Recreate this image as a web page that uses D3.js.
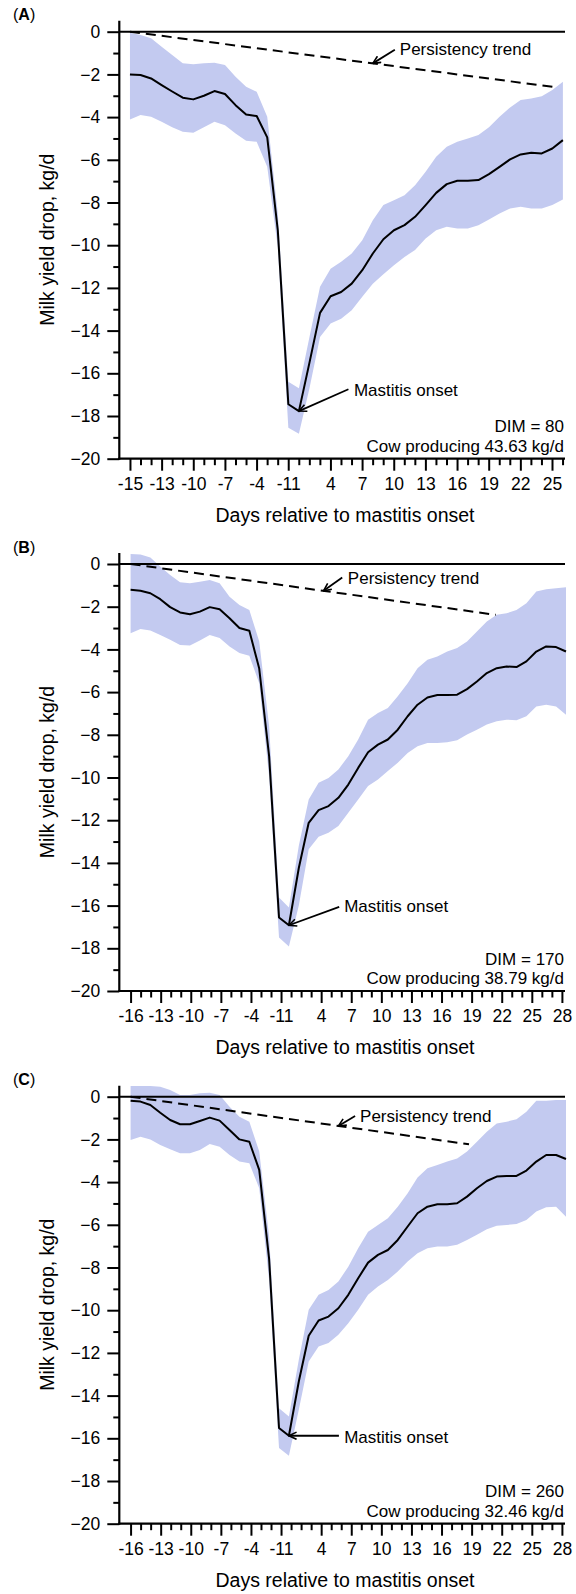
<!DOCTYPE html>
<html><head><meta charset="utf-8">
<script src="https://cdn.jsdelivr.net/npm/d3@7"></script>
<style>
body{margin:0;background:#fff}
svg{display:block}
text{font-family:"Liberation Sans",Arial,Helvetica,sans-serif;fill:#000}
</style></head>
<body><div id="chart"></div>
<script>
// ---------------- DATA ----------------
const panelLetters = ["A","B","C"];
const dimLabels = ["DIM = 80","DIM = 170","DIM = 260"];
const cowLabels = ["Cow producing 43.63 kg/d","Cow producing 38.79 kg/d","Cow producing 32.46 kg/d"];

const xLabelsA = ["-15","-13","-10","-7","-4","-11","4","7","10","13","16","19","22","25"];
const xLabelPosA = [0,3,6,9,12,15,19,22,25,28,31,34,37,40];
const xLabelsBC = ["-16","-13","-10","-7","-4","-11","4","7","10","13","16","19","22","25","28"];
const xLabelPosBC = [0,3,6,9,12,15,19,22,25,28,31,34,37,40,43];

const yMajor = [0,-2,-4,-6,-8,-10,-12,-14,-16,-18,-20];
const yMinor = [-1,-3,-5,-7,-9,-11,-13,-15,-17,-19];

const meanA = [-2.0,-2.03,-2.19,-2.5,-2.8,-3.09,-3.17,-3.0,-2.78,-2.92,-3.44,-3.88,-3.95,-4.95,-9.3,-17.45,-17.77,-15.5,-13.17,-12.39,-12.19,-11.8,-11.17,-10.39,-9.72,-9.3,-9.06,-8.67,-8.12,-7.55,-7.14,-6.98,-6.98,-6.95,-6.67,-6.33,-5.98,-5.75,-5.67,-5.7,-5.47,-5.08];
const upperA = [-0.05,-0.16,-0.31,-0.7,-1.09,-1.48,-1.53,-1.48,-1.45,-1.56,-2.11,-2.58,-2.81,-3.98,-8.5,-16.4,-16.7,-14.3,-11.95,-11.1,-10.78,-10.39,-9.77,-8.83,-8.12,-7.89,-7.66,-7.19,-6.56,-5.86,-5.39,-5.16,-5.0,-4.84,-4.48,-3.98,-3.55,-3.2,-3.13,-3.02,-2.73,-2.34];
const lowerA = [-4.11,-3.9,-3.98,-4.22,-4.48,-4.69,-4.73,-4.48,-4.22,-4.38,-4.77,-5.11,-5.16,-6.33,-10.1,-18.55,-18.83,-16.7,-14.3,-13.67,-13.44,-13.05,-12.42,-11.8,-11.36,-10.94,-10.55,-10.23,-9.69,-9.3,-9.14,-9.22,-9.22,-9.06,-8.8,-8.52,-8.28,-8.2,-8.28,-8.28,-8.12,-7.86];

const meanB = [-1.21,-1.25,-1.37,-1.65,-2.02,-2.27,-2.35,-2.23,-2.02,-2.12,-2.54,-3.0,-3.13,-4.9,-9.0,-16.56,-16.92,-14.24,-12.12,-11.53,-11.34,-10.95,-10.33,-9.55,-8.82,-8.46,-8.22,-7.76,-7.13,-6.59,-6.25,-6.14,-6.14,-6.12,-5.86,-5.5,-5.11,-4.88,-4.8,-4.83,-4.56,-4.1,-3.86,-3.89,-4.1];
const upperB = [0.47,0.44,0.31,-0.12,-0.51,-0.86,-0.9,-0.83,-0.75,-0.9,-1.53,-1.92,-2.15,-3.63,-7.6,-15.62,-16.09,-13.2,-11.03,-10.25,-10.02,-9.63,-9.0,-8.22,-7.29,-6.98,-6.74,-6.2,-5.58,-4.88,-4.49,-4.33,-4.1,-3.94,-3.63,-3.16,-2.69,-2.38,-2.31,-2.15,-1.84,-1.29,-1.18,-1.14,-1.09];
const lowerB = [-3.24,-3.05,-3.12,-3.32,-3.55,-3.79,-3.82,-3.58,-3.32,-3.47,-3.86,-4.17,-4.3,-5.58,-9.94,-17.49,-17.91,-16.0,-13.36,-12.77,-12.59,-12.27,-11.65,-11.03,-10.4,-10.09,-9.7,-9.31,-8.85,-8.54,-8.38,-8.38,-8.35,-8.26,-7.99,-7.76,-7.52,-7.37,-7.29,-7.32,-7.13,-6.67,-6.59,-6.67,-7.06];

const meanC = [-0.19,-0.23,-0.39,-0.75,-1.09,-1.29,-1.29,-1.14,-0.98,-1.12,-1.56,-2.0,-2.11,-3.43,-7.6,-15.52,-15.88,-13.34,-11.2,-10.48,-10.3,-9.91,-9.28,-8.5,-7.77,-7.41,-7.18,-6.71,-6.08,-5.46,-5.15,-5.04,-5.04,-4.99,-4.68,-4.29,-3.95,-3.74,-3.71,-3.71,-3.46,-3.04,-2.73,-2.73,-2.92];
const upperC = [0.5,0.5,0.5,0.47,0.31,0.08,0.08,0.16,0.19,0.08,-0.47,-0.94,-1.17,-2.57,-6.55,-14.59,-14.98,-12.32,-9.98,-9.28,-9.05,-8.66,-7.96,-7.1,-6.32,-6.01,-5.69,-5.15,-4.52,-3.78,-3.35,-3.2,-3.04,-2.89,-2.57,-2.11,-1.64,-1.25,-1.17,-1.06,-0.7,-0.19,-0.19,-0.16,-0.16];
const lowerC = [-2.03,-1.87,-2.0,-2.26,-2.46,-2.65,-2.65,-2.5,-2.22,-2.34,-2.73,-3.04,-3.12,-4.29,-8.58,-16.46,-16.82,-14.66,-12.4,-11.7,-11.54,-11.15,-10.61,-9.98,-9.28,-8.89,-8.58,-8.19,-7.72,-7.33,-7.1,-7.02,-7.02,-6.94,-6.71,-6.47,-6.21,-6.05,-6.01,-5.96,-5.77,-5.38,-5.18,-5.15,-5.62];

// persistency trend: start (index, value) and end (index, value)
const trendA = [[0,0],[40.3,-2.6]];
const trendB = [[0,0],[36.9,-2.38]];
const trendC = [[0,0],[34.2,-2.23]];
const trendArrowIdx = [23, 19.5, 21];
const onsetIdx = 16;

// ---------------- LAYOUT ----------------
const W = 576, H = 1594;
const FS = 17, TFS = 17.5;
const panels = [
  {mean:meanA, upper:upperA, lower:lowerA, trend:trendA, labels:xLabelsA, labelPos:xLabelPosA,
   top:31.7, xd:[-1.01,41.2], xr:[119.3,565], tickMax:41, tickEnd:552,
   pArrow:{tail:[22,-13.6], text:[27,-8]}, oArrow:{tail:[49.5,-21.8], text:[55,-15.4]}},
  {mean:meanB, upper:upperB, lower:lowerB, trend:trendB, labels:xLabelsBC, labelPos:xLabelPosBC,
   top:564, xd:[-1.14,43.9], xr:[119.3,565], tickMax:43, tickEnd:561.9,
   pArrow:{tail:[18.7,-13.4], text:[24.3,-7]}, oArrow:{tail:[50.3,-18.3], text:[55.3,-13.3]}},
  {mean:meanC, upper:upperC, lower:lowerC, trend:trendC, labels:xLabelsBC, labelPos:xLabelPosBC,
   top:1096.7, xd:[-1.14,43.9], xr:[119.3,565], tickMax:43, tickEnd:561.9,
   pArrow:{tail:[16.7,-10], text:[21.7,-4.3]}, oArrow:{tail:[50,0], text:[55.3,7]}}
];
const PH = 427;

const svg = d3.select("#chart").append("svg").attr("width",W).attr("height",H);
svg.append("rect").attr("width",W).attr("height",H).attr("fill","#fff");
svg.append("defs").append("marker")
  .attr("id","arr").attr("viewBox","0 0 10 10").attr("refX",9.5).attr("refY",5)
  .attr("markerWidth",9).attr("markerHeight",9).attr("markerUnits","userSpaceOnUse").attr("orient","auto")
  .append("path").attr("d","M1,1 L9.5,5 L1,9").attr("fill","none").attr("stroke","#000").attr("stroke-width",1.8);

const BAND = "#c3caf0";

panels.forEach((p,pi)=>{
  const g = svg.append("g");
  const x = d3.scaleLinear().domain(p.xd).range(p.xr);
  const y = d3.scaleLinear().domain([0,-20]).range([p.top, p.top+PH]);
  // tick grid scale (day ticks of the axis)
  const lastLab = p.labelPos[p.labelPos.length-1];
  const xt = d3.scaleLinear().domain([0,lastLab]).range([x(0), p.tickEnd]);
  const idx = d3.range(p.mean.length);

  // band
  g.append("path").datum(idx)
    .attr("d", d3.area().x(i=>x(i)).y0(i=>y(p.lower[i])).y1(i=>y(p.upper[i])))
    .attr("fill", BAND).attr("stroke","none");

  // zero line
  g.append("line").attr("x1",x.range()[0]).attr("x2",x.range()[1])
    .attr("y1",y(0)).attr("y2",y(0)).attr("stroke","#000").attr("stroke-width",2);

  // persistency trend
  g.append("path").datum(p.trend)
    .attr("d", d3.line().x(d=>x(d[0])).y(d=>y(d[1])))
    .attr("fill","none").attr("stroke","#000").attr("stroke-width",2).attr("stroke-dasharray","10,6");

  // mean line
  g.append("path").datum(idx)
    .attr("d", d3.line().x(i=>x(i)).y(i=>y(p.mean[i])))
    .attr("fill","none").attr("stroke","#000").attr("stroke-width",2).attr("stroke-linejoin","round");

  // y axis
  const yAxMaj = d3.axisLeft(y).tickValues(yMajor).tickSize(12).tickPadding(7).tickFormat(d3.format("d"));
  const yAxMin = d3.axisLeft(y).tickValues(yMinor).tickSize(6).tickFormat("");
  const ga = g.append("g").attr("transform",`translate(${x.range()[0]},0)`).call(yAxMaj);
  const gm = g.append("g").attr("transform",`translate(${x.range()[0]},0)`).call(yAxMin);
  [ga,gm].forEach(a=>{a.select(".domain").remove(); a.selectAll("line").attr("stroke-width",2);});
  ga.selectAll("text").attr("font-size",TFS).style("font-family","'Liberation Sans',Arial,sans-serif");
  g.append("line").attr("x1",x.range()[0]).attr("x2",x.range()[0])
    .attr("y1",y(0)-11).attr("y2",y(-20)+1).attr("stroke","#000").attr("stroke-width",2.2);

  // x axis
  const nTicks = d3.range(0, p.tickMax+1);
  const xAxMaj = d3.axisBottom(xt).tickValues(p.labelPos).tickSize(12).tickPadding(7).tickFormat((d,i)=>p.labels[i]);
  const xAxMin = d3.axisBottom(xt).tickValues(nTicks.filter(v=>!p.labelPos.includes(v))).tickSize(6.5).tickFormat("");
  const xa = g.append("g").attr("transform",`translate(0,${y(-20)})`).call(xAxMaj);
  const xm = g.append("g").attr("transform",`translate(0,${y(-20)})`).call(xAxMin);
  [xa,xm].forEach(a=>{a.select(".domain").remove(); a.selectAll("line").attr("stroke-width",2);});
  xa.selectAll("text").attr("font-size",TFS).style("font-family","'Liberation Sans',Arial,sans-serif");
  g.append("line").attr("x1",x.range()[0]-1).attr("x2",x.range()[1])
    .attr("y1",y(-20)).attr("y2",y(-20)).attr("stroke","#000").attr("stroke-width",2.2);

  // axis titles
  g.append("text").attr("x",345).attr("y",y(-20)+63).attr("text-anchor","middle")
    .attr("font-size",19.5).text("Days relative to mastitis onset");
  g.append("text").attr("transform",`translate(54,${p.top+208}) rotate(-90)`).attr("text-anchor","middle")
    .attr("font-size",19.5).text("Milk yield drop, kg/d");

  // panel label
  const pl = g.append("text").attr("x",13).attr("y",p.top-11.5).attr("font-size",16);
  pl.append("tspan").text("(");
  pl.append("tspan").attr("font-weight","bold").text(panelLetters[pi]);
  pl.append("tspan").text(")");

  // persistency annotation
  const ti = trendArrowIdx[pi];
  const tv = p.trend[0][1] + (p.trend[1][1]-p.trend[0][1])*(ti-p.trend[0][0])/(p.trend[1][0]-p.trend[0][0]);
  const tx = x(ti), ty = y(tv);
  g.append("line").attr("x1",tx+p.pArrow.tail[0]).attr("y1",ty+p.pArrow.tail[1])
    .attr("x2",tx).attr("y2",ty).attr("stroke","#000").attr("stroke-width",1.8).attr("marker-end","url(#arr)");
  g.append("text").attr("x",tx+p.pArrow.text[0]).attr("y",ty+p.pArrow.text[1]).attr("font-size",FS).text("Persistency trend");

  // onset annotation
  const ox = x(onsetIdx), oy = y(p.mean[onsetIdx]);
  g.append("line").attr("x1",ox+p.oArrow.tail[0]).attr("y1",oy+p.oArrow.tail[1])
    .attr("x2",ox).attr("y2",oy).attr("stroke","#000").attr("stroke-width",1.8).attr("marker-end","url(#arr)");
  g.append("text").attr("x",ox+p.oArrow.text[0]).attr("y",oy+p.oArrow.text[1]).attr("font-size",FS).text("Mastitis onset");

  // DIM text
  g.append("text").attr("x",x.range()[1]-1).attr("y",y(-20)-26.5).attr("text-anchor","end").attr("font-size",FS).text(dimLabels[pi]);
  g.append("text").attr("x",x.range()[1]-1).attr("y",y(-20)-7).attr("text-anchor","end").attr("font-size",FS).text(cowLabels[pi]);
});
</script></body></html>
